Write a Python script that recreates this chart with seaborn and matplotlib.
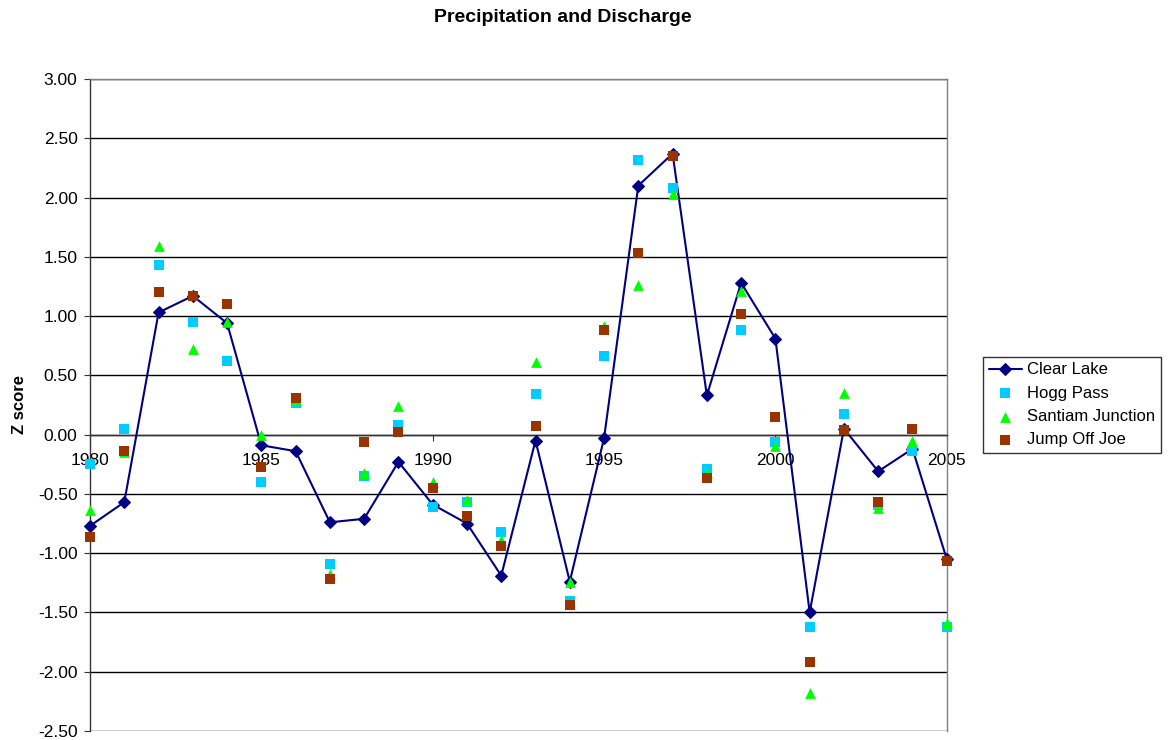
import numpy as np
import pandas as pd
import matplotlib
matplotlib.use("Agg")
import matplotlib.pyplot as plt
import seaborn as sns

years = list(range(1980, 2006))

clear_lake = [-0.77, -0.57, 1.03, 1.17, 0.94, -0.09, -0.14, -0.74, -0.71, -0.23,
              -0.59, -0.75, -1.19, -0.05, -1.24, -0.03, 2.10, 2.37, 0.33, 1.28,
              0.81, -1.50, 0.05, -0.31, -0.12, -1.05]
hogg_pass = [-0.25, 0.05, 1.43, 0.95, 0.62, -0.40, 0.27, -1.09, -0.35, 0.08,
             -0.61, -0.57, -0.82, 0.34, -1.40, 0.66, 2.32, 2.08, -0.29, 0.88,
             -0.06, -1.62, 0.17, -0.59, -0.14, -1.62]
santiam_junction = [-0.64, -0.15, 1.59, 0.72, 0.95, 0.00, 0.29, -1.18, -0.32, 0.24,
                    -0.40, -0.55, -0.89, 0.61, -1.24, 0.92, 1.26, 2.03, -0.32, 1.21,
                    -0.10, -2.18, 0.35, -0.62, -0.05, -1.59]
jump_off_joe = [-0.86, -0.14, 1.20, 1.17, 1.10, -0.27, 0.31, -1.22, -0.06, 0.02,
                -0.45, -0.69, -0.94, 0.07, -1.44, 0.88, 1.53, 2.35, -0.37, 1.02,
                0.15, -1.92, 0.04, -0.57, 0.05, -1.07]

sns.set_style("white")
plt.rcParams["font.family"] = ["Liberation Sans", "DejaVu Sans"]
plt.rcParams["text.color"] = "black"
plt.rcParams["axes.labelcolor"] = "black"
plt.rcParams["xtick.color"] = "black"
plt.rcParams["ytick.color"] = "black"

fig = plt.figure(figsize=(11.72, 7.4), dpi=100)
ax = fig.add_axes([0.0768, 0.0122, 0.731, 0.8811])

# gridlines first so markers sit on top
ax.set_axisbelow(True)
ax.yaxis.grid(True, color="black", linewidth=1)

sns.lineplot(x=years, y=clear_lake, ax=ax, color="#000080", linewidth=1.5,
             marker="D", markersize=6.5, markeredgecolor="#000080",
             label="Clear Lake", zorder=3, clip_on=False)
sns.scatterplot(x=years, y=hogg_pass, ax=ax, color="#00CCFF", marker="s",
                s=55, linewidth=0, label="Hogg Pass", zorder=4, clip_on=False)
sns.scatterplot(x=years, y=santiam_junction, ax=ax, color="#00FF00", marker="^",
                s=60, linewidth=0, label="Santiam Junction", zorder=4, clip_on=False)
sns.scatterplot(x=years, y=jump_off_joe, ax=ax, color="#993300", marker="s",
                s=55, linewidth=0, label="Jump Off Joe", zorder=5, clip_on=False)

ax.set_xlim(1980, 2005)
ax.set_ylim(-2.5, 3.0)
ax.set_yticks(np.arange(-2.5, 3.01, 0.5))
ax.set_yticklabels([f"{v:.2f}" for v in np.arange(-2.5, 3.01, 0.5)])
ax.set_xticks(range(1980, 2006, 5))

# x axis crosses at zero, Excel style
ax.spines["bottom"].set_position(("data", 0))
ax.spines["bottom"].set_color("#333333")
ax.spines["left"].set_color("#333333")
ax.spines["top"].set_color("#808080")
ax.spines["right"].set_color("#808080")
for sp in ax.spines.values():
    sp.set_linewidth(1)
    sp.set_zorder(2)

ax.tick_params(axis="both", labelsize=12.5, length=4, direction="out",
               color="#333333", left=True, bottom=True)
ax.tick_params(axis="x", pad=9)
ax.tick_params(axis="y", pad=5)

ax.set_ylabel("Z score", fontsize=12, fontweight="bold", labelpad=8)
ax.set_xlabel("")
fig.text(0.48, 0.976, "Precipitation and Discharge", fontsize=14,
         fontweight="bold", ha="center", va="center")

leg = ax.legend(loc="center left", bbox_to_anchor=(1.042, 0.5), frameon=True,
                fancybox=False, fontsize=12, handlelength=2.0, borderpad=0.35,
                labelspacing=0.5, handletextpad=0.3, borderaxespad=0)
leg.get_frame().set_edgecolor("black")
leg.get_frame().set_linewidth(1)

fig.savefig("out.png", dpi=100)
